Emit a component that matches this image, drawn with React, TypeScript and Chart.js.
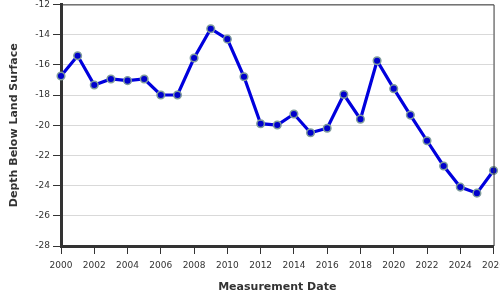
import React, { useEffect, useRef } from "react";
import { Chart, registerables } from "chart.js";

Chart.register(...registerables);

const years = [2000, 2001, 2002, 2003, 2004, 2005, 2006, 2007, 2008, 2009, 2010, 2011, 2012, 2013, 2014, 2015, 2016, 2017, 2018, 2019, 2020, 2021, 2022, 2023, 2024, 2025, 2026];
const depths = [-16.74, -15.4, -17.34, -16.94, -17.05, -16.94, -18.0, -18.0, -15.55, -13.61, -14.3, -16.79, -19.9, -19.99, -19.26, -20.5, -20.2, -17.97, -19.6, -15.73, -17.58, -19.33, -21.03, -22.7, -24.1, -24.5, -23.0];
const xTitle = "Measurement Date";
const yTitle = "Depth Below Land Surface";

const FONT = "'DejaVu Sans', Verdana, sans-serif";

const frame = {
  id: "frame",
  afterDatasetsDraw(chart: any) {
    const { ctx, chartArea } = chart;
    ctx.save();
    ctx.strokeStyle = "#333";
    ctx.lineWidth = 1;
    ctx.beginPath();
    ctx.moveTo(chartArea.left, chartArea.top + 0.5);
    ctx.lineTo(chartArea.right + 0.5, chartArea.top + 0.5);
    ctx.lineTo(chartArea.right + 0.5, chartArea.bottom);
    ctx.stroke();
    ctx.restore();
  },
};

export default function App() {
  const ref = useRef<HTMLCanvasElement>(null);
  useEffect(() => {
    document.body.style.margin = "0";
    const chart = new Chart(ref.current!, {
      type: "line",
      data: {
        datasets: [
          {
            data: years.map((y, i) => ({ x: y, y: depths[i] })),
            borderColor: "#0000dd",
            borderWidth: 3.2,
            backgroundColor: "#0000cc",
            pointBackgroundColor: "#0000cc",
            pointBorderColor: "#7f9c9c",
            pointBorderWidth: 1.5,
            pointRadius: 3.8,
            tension: 0,
            clip: false as any,
          },
        ],
      },
      options: {
        animation: false,
        responsive: false,
        devicePixelRatio: 1,
        layout: { padding: 0 },
        plugins: { legend: { display: false }, tooltip: { enabled: false } },
        scales: {
          x: {
            type: "linear",
            min: 2000,
            max: 2026,
            afterFit: (s: any) => {
              s.height = 54;
            },
            ticks: {
              stepSize: 2,
              autoSkip: false,
              maxRotation: 0,
              padding: 6,
              color: "#333",
              font: { family: FONT, size: 9 },
              callback: (v: any) => String(v),
            },
            grid: { drawOnChartArea: false, drawTicks: true, tickLength: 8, tickColor: "#333", tickWidth: 1 },
            border: { display: true, color: "#333", width: 3 },
            title: {
              display: true,
              text: xTitle,
              color: "#333",
              font: { family: FONT, size: 11, weight: "bold" },
              padding: { top: 0, bottom: 6 },
            },
          },
          y: {
            min: -28,
            max: -12,
            afterFit: (s: any) => {
              s.width = 61;
            },
            ticks: {
              stepSize: 2,
              padding: 3,
              color: "#333",
              font: { family: FONT, size: 9 },
            },
            grid: { color: "#d9d9d9", drawTicks: true, tickLength: 8, tickColor: "#333", tickWidth: 1 },
            border: { display: true, color: "#333", width: 3 },
            title: {
              display: true,
              text: yTitle,
              color: "#333",
              font: { family: FONT, size: 11, weight: "bold" },
              padding: { top: 8, bottom: 0 },
            },
          },
        },
      },
      plugins: [frame],
    });
    return () => chart.destroy();
  }, []);
  return (
    <div style={{ position: "fixed", left: 0, top: 0, width: 500, height: 300, overflow: "hidden", background: "#fff" }}>
      <canvas ref={ref} width={511} height={304} style={{ display: "block", marginTop: -4 }} />
    </div>
  );
}
